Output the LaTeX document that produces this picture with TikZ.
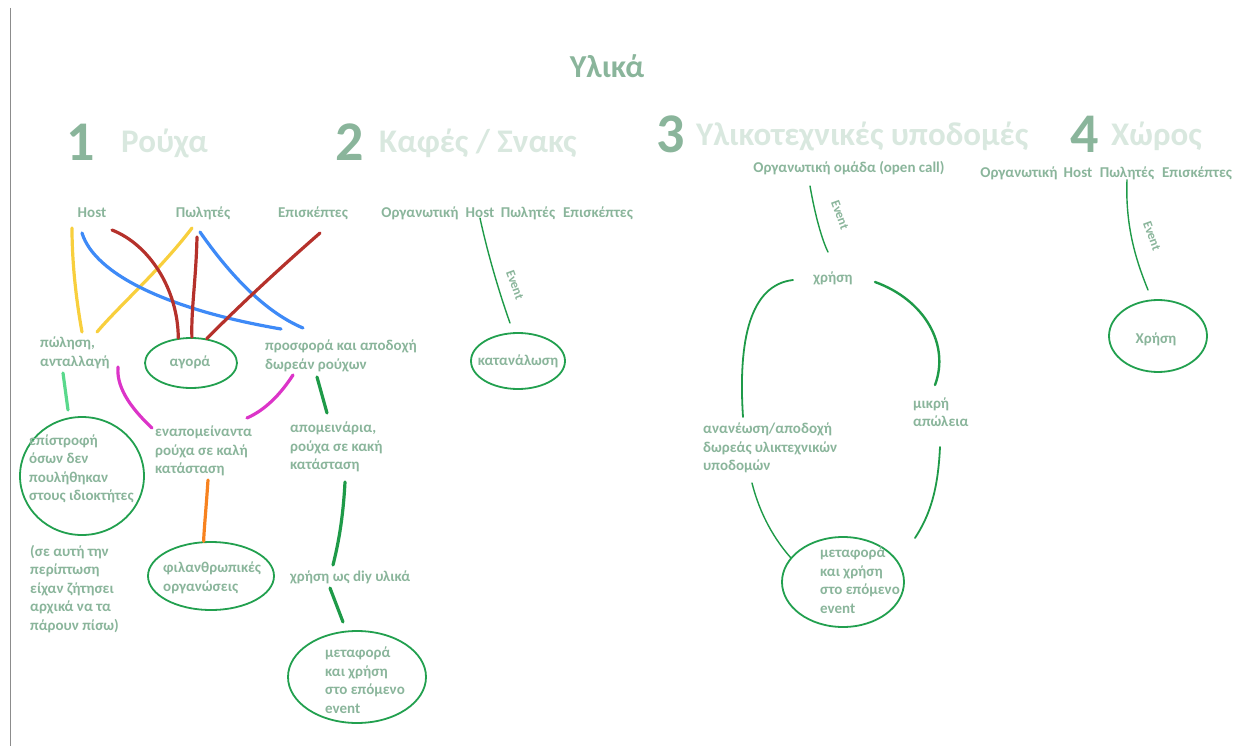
\documentclass[tikz,border=0pt]{standalone}
\usepackage{fontspec}
\setmainfont{Carlito}
\usetikzlibrary{shapes.geometric}
\definecolor{txtgreen}{HTML}{8AB59B}
\definecolor{headgreen}{HTML}{D9E8DF}
\definecolor{ringgreen}{HTML}{22A04F}
\definecolor{crayyel}{HTML}{F8CF3D}
\definecolor{crayblue}{HTML}{3E8AF7}
\definecolor{crayred}{HTML}{B5312B}
\definecolor{craymag}{HTML}{DC34C8}
\definecolor{crayorange}{HTML}{F7821F}
\definecolor{craymint}{HTML}{5AD98C}
\definecolor{craygreen}{HTML}{1E9A48}
\tikzset{
  lbl/.style={text=txtgreen, font=\bfseries\fontsize{15}{18.5}\selectfont, inner sep=0pt, align=left},
  evt/.style={lbl, rotate=-70, font=\bfseries\fontsize{13}{13}\selectfont},
  num/.style={text=txtgreen, font=\bfseries\fontsize{56}{56}\selectfont, inner sep=0pt},
  head/.style={text=headgreen, font=\bfseries\fontsize{33}{33}\selectfont, inner sep=0pt, anchor=west},
  ring/.style={draw=ringgreen, line width=1.8pt, ellipse, inner sep=0pt},
  crayon/.style={line width=3.2pt, line cap=round},
  pen/.style={draw=craygreen, line width=1.8pt, line cap=round},
}

\begin{document}
\begin{tikzpicture}[x=1pt, y=-1pt]
			%%%%% START %%%%%
			\useasboundingbox (0, 0) rectangle (1242, 746);
			\draw[black!45, line width=1pt] (10, 8) -- (10, 746);

			\node[text=txtgreen, font=\bfseries\fontsize{32}{32}\selectfont] (title) at (607, 66) {Υλικά};

			\node[num] (n1) at (81, 142) {1};
			\node[head] (h1) at (121, 143) {Ρούχα};
			\node[num] (n2) at (350, 142) {2};
			\node[head] (h2) at (379, 143) {Καφές / Σνακς};
			\node[num] (n3) at (671, 134) {3};
			\node[head] (h3) at (696, 136) {Υλικοτεχνικές υποδομές};
			\node[num] (n4) at (1085, 134) {4};
			\node[head] (h4) at (1111, 136) {Χώρος};

			%% 1 clothes
			\node[lbl] (host1) at (92, 213) {Host};
			\node[lbl] (sell1) at (203, 213) {Πωλητές};
			\node[lbl] (visit1) at (313, 213) {Επισκέπτες};

			\node[lbl, anchor=west] (sale) at (40, 353) {πώληση,\\ανταλλαγή};
			\node[ring, minimum width=92, minimum height=50] (agora) at (191, 363) {};
			\node[lbl] (agora-txt) at (190, 362) {αγορά};
			\node[lbl, anchor=west] (offer) at (265, 356) {προσφορά και αποδοχή\\δωρεάν ρούχων};

			\node[ring, minimum width=124, minimum height=118] (ret) at (82, 476) {};
			\node[lbl, anchor=west] (ret-txt) at (29, 469) {επίστροφή\\όσων δεν\\πουλήθηκαν\\στους ιδιοκτήτες};
			\node[lbl, anchor=west] (note) at (30, 589) {(σε αυτή την\\περίπτωση\\είχαν ζήτησει\\αρχικά να τα\\πάρουν πίσω)};

			\node[lbl, anchor=west] (left) at (155, 451) {εναπομείναντα\\ρούχα σε καλή\\κατάσταση};
			\node[lbl, anchor=west] (scraps) at (290, 447) {απομεινάρια,\\ρούχα σε κακή\\κατάσταση};

			\node[ring, minimum width=126, minimum height=68] (charity) at (211, 576) {};
			\node[lbl, anchor=west] (charity-txt) at (163, 578) {φιλανθρωπικές\\οργανώσεις};
			\node[lbl, anchor=west] (diy) at (290, 577) {χρήση ως diy υλικά};

			\node[ring, minimum width=138, minimum height=92] (next1) at (357, 677) {};
			\node[lbl, anchor=west] (next1-txt) at (325, 680) {μεταφορά\\και χρήση\\στο επόμενο\\event};

			\coordinate (y1a) at (72, 228);
			\coordinate (y1b) at (82, 332);
			\coordinate (y2a) at (192, 228);
			\coordinate (y2b) at (97, 332);
			\coordinate (b1a) at (82, 233);
			\coordinate (b1b) at (281, 329);
			\coordinate (b2a) at (200, 232);
			\coordinate (b2b) at (303, 328);
			\coordinate (r1a) at (112, 230);
			\coordinate (r2a) at (197, 237);
			\coordinate (r3a) at (320, 233);

			\draw[crayon, crayyel] (y1a) .. controls (72, 270) and (78, 310) .. (y1b);
			\draw[crayon, crayyel] (y2a) .. controls (160, 270) and (120, 305) .. (y2b);
			\draw[crayon, crayblue] (b1a) .. controls (95, 275) and (170, 310) .. (b1b);
			\draw[crayon, crayblue] (b2a) .. controls (230, 275) and (265, 312) .. (b2b);
			\draw[crayon, crayred] (r1a) .. controls (150, 245) and (178, 290) .. (agora.117);
			\draw[crayon, crayred] (r2a) .. controls (196, 280) and (191, 310) .. (agora.88);
			\draw[crayon, crayred] (r3a) .. controls (280, 268) and (240, 305) .. (agora.57);

			\draw[crayon, craymag] (118, 367) .. controls (116, 390) and (135, 412) .. (152, 428);
			\draw[crayon, craymag] (293, 375) .. controls (280, 395) and (265, 410) .. (247, 418);
			\draw[crayon, craymint] (63, 373) -- (68, 410);
			\draw[crayon, craygreen] (317, 377) -- (327, 413);
			\draw[crayon, crayorange] (208, 480) .. controls (206, 510) and (204, 530) .. (charity.102);
			\draw[crayon, craygreen] (345, 482) .. controls (343, 520) and (338, 545) .. (333, 565);
			\draw[crayon, craygreen] (330, 588) -- (343, 622);

			%% 2 coffee / snacks
			\node[lbl] (org2) at (420, 213) {Οργανωτική};
			\node[lbl] (host2) at (480, 213) {Host};
			\node[lbl] (sell2) at (528, 213) {Πωλητές};
			\node[lbl] (visit2) at (598, 213) {Επισκέπτες};
			\node[ring, minimum width=94, minimum height=56] (cons) at (518, 361) {};
			\node[lbl] (cons-txt) at (518, 361) {κατανάλωση};
			\node[evt] (event2) at (515, 285) {Event};
			\coordinate (c2) at (510, 323);
			\draw[pen, line width=1.4pt] (host2.south) .. controls (488, 255) and (500, 295) .. (c2);

			%% 3 equipment
			\node[lbl] (org3) at (849, 168) {Οργανωτική ομάδα (open call)};
			\node[evt] (event3) at (840, 215) {Event};
			\node[lbl] (use3) at (833, 278) {χρήση};
			\node[lbl, anchor=west] (loss) at (913, 412) {μικρή\\απώλεια};
			\node[lbl, anchor=west] (renew) at (703, 448) {ανανέωση/αποδοχή\\δωρεάς υλικτεχνικών\\υποδομών};
			\node[ring, minimum width=122, minimum height=90] (next3) at (843, 582) {};
			\node[lbl, anchor=west] (next3-txt) at (820, 580) {μεταφορά\\και χρήση\\στο επόμενο\\event};

			\coordinate (c3a) at (810, 186);
			\coordinate (c3b) at (828, 252);
			\coordinate (l3a) at (793, 280);
			\coordinate (l3b) at (743, 417);
			\coordinate (r3a3) at (875, 282);
			\coordinate (r3b3) at (935, 385);
			\coordinate (d3a) at (940, 447);
			\coordinate (d3b) at (915, 538);
			\coordinate (e3a) at (752, 483);

			\draw[pen, line width=1.4pt] (c3a) .. controls (815, 215) and (822, 240) .. (c3b);
			\draw[pen] (l3a) .. controls (750, 285) and (738, 340) .. (l3b);
			\draw[pen, line width=2.4pt] (r3a3) .. controls (925, 300) and (950, 345) .. (r3b3);
			\draw[pen] (d3a) .. controls (938, 490) and (930, 515) .. (d3b);
			\draw[pen, line width=1.4pt] (e3a) .. controls (760, 515) and (775, 540) .. (next3.155);

			%% 4 space
			\node[lbl] (org4) at (1019, 173) {Οργανωτική};
			\node[lbl] (host4) at (1078, 173) {Host};
			\node[lbl] (sell4) at (1127, 173) {Πωλητές};
			\node[lbl] (visit4) at (1197, 173) {Επισκέπτες};
			\node[evt] (event4) at (1152, 236) {Event};
			\node[ring, minimum width=98, minimum height=72] (use4) at (1158, 336) {};
			\node[lbl] (use4-txt) at (1156, 339) {Χρήση};
			\coordinate (c4) at (1148, 290);
			\draw[pen, line width=1.4pt] (sell4.south) .. controls (1125, 230) and (1138, 265) .. (c4);

			%%%%% END %%%%%
		\end{tikzpicture}
\end{document}
